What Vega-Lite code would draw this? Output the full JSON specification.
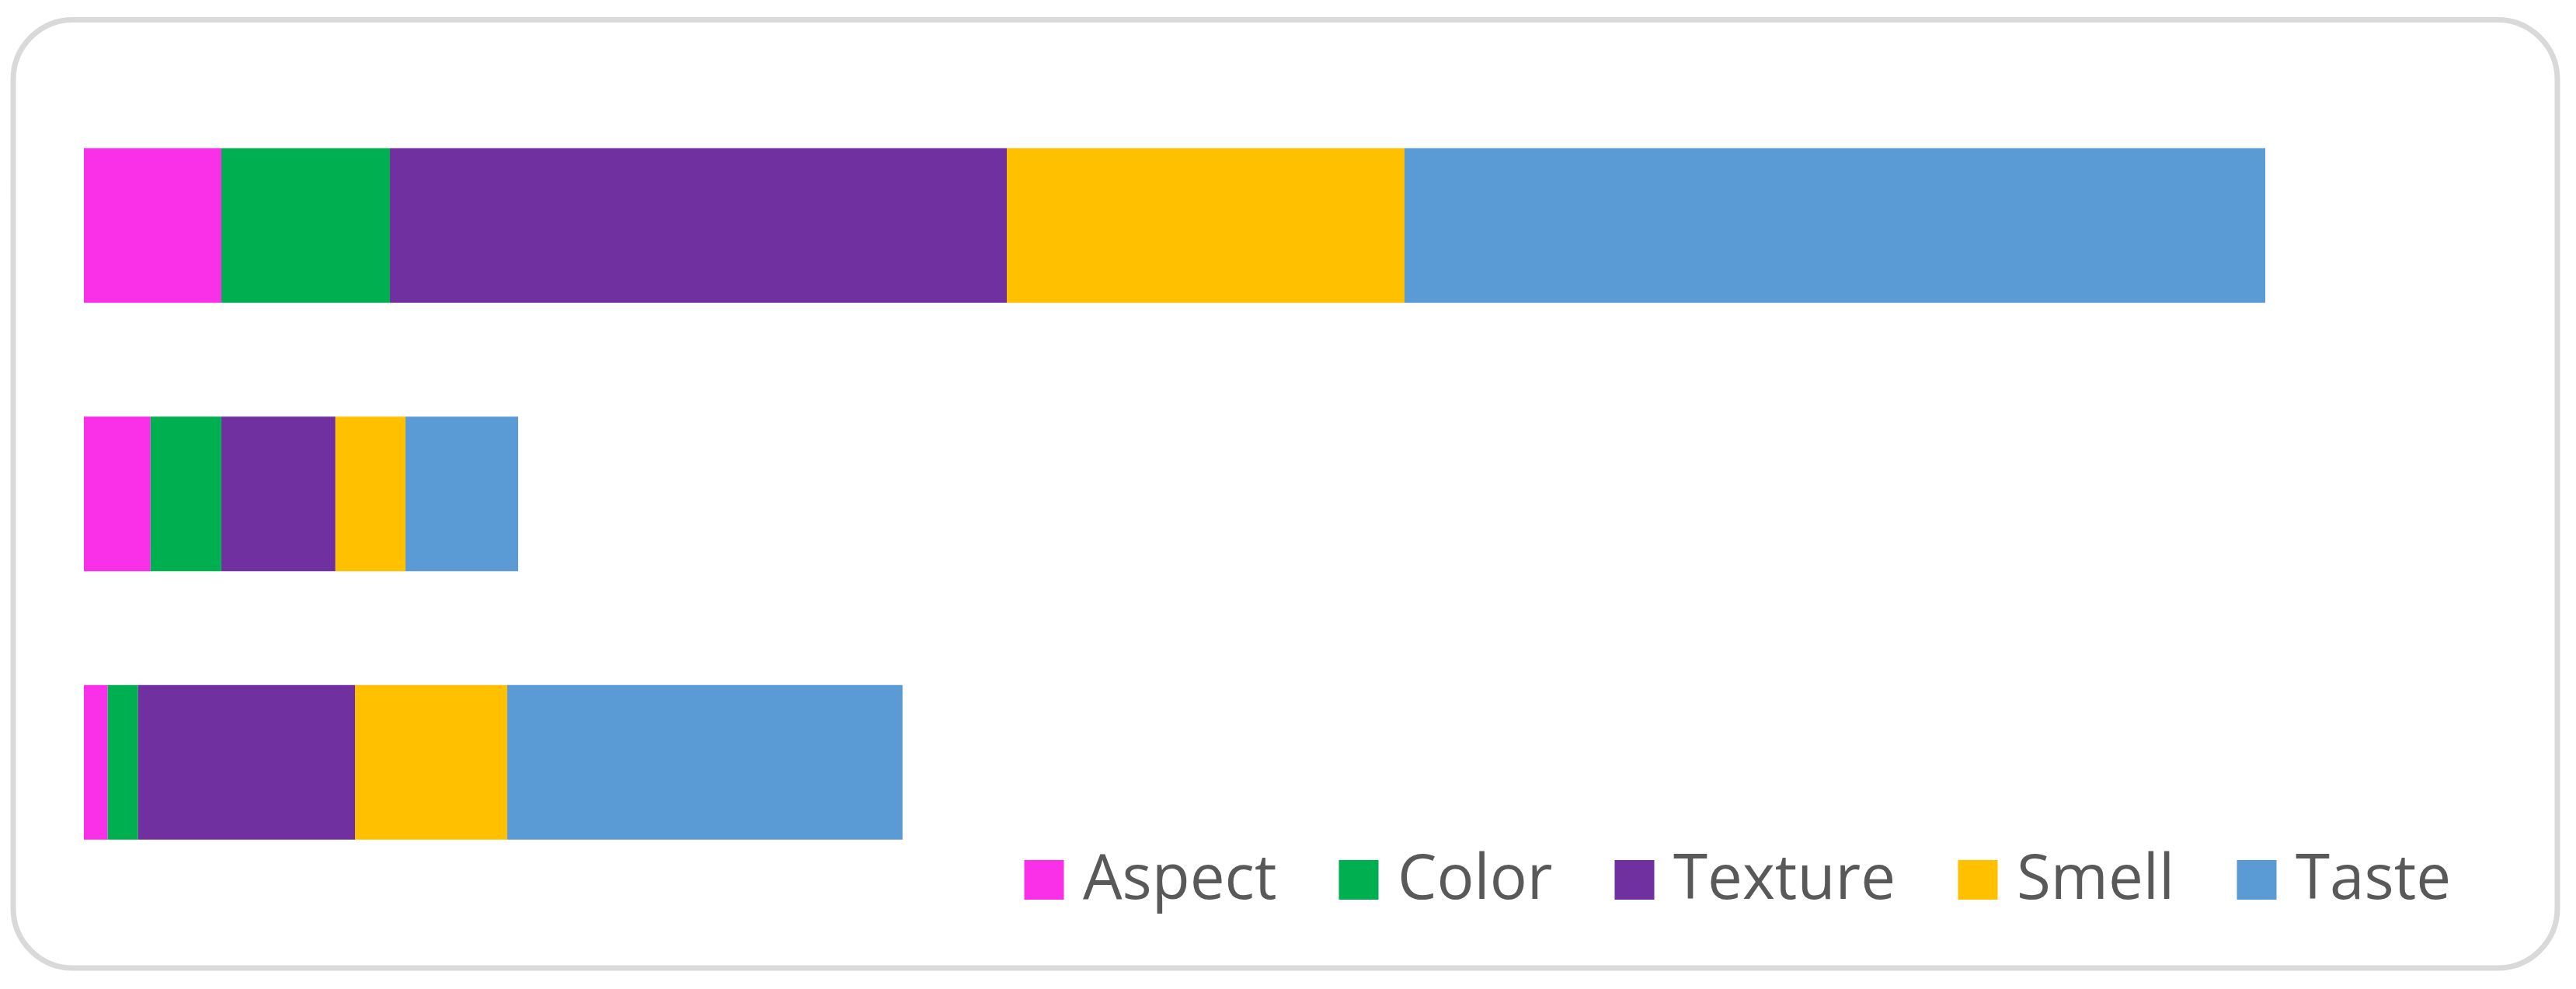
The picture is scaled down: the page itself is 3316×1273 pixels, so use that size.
{
  "$schema": "https://vega.github.io/schema/vega-lite/v6.json",
  "width": 3275,
  "height": 1220.5,
  "autosize": {"type": "none"},
  "padding": {"left": 17, "top": 25.5, "right": 24, "bottom": 27},
  "background": "white",
  "view": {"stroke": "#d9d9d9", "strokeWidth": 7, "cornerRadius": 77, "fill": "white"},
  "config": {
    "view": {"stroke": "#d9d9d9", "strokeWidth": 7, "cornerRadius": 77, "fill": "white"}
  },
  "data": {
    "values": [
      {"group": "Group 1", "attribute": "Aspect", "rank": 1, "value": 17.7},
      {"group": "Group 1", "attribute": "Color", "rank": 2, "value": 21.7},
      {"group": "Group 1", "attribute": "Texture", "rank": 3, "value": 79.4},
      {"group": "Group 1", "attribute": "Smell", "rank": 4, "value": 51.2},
      {"group": "Group 1", "attribute": "Taste", "rank": 5, "value": 110.8},
      {"group": "Group 2", "attribute": "Aspect", "rank": 1, "value": 8.58},
      {"group": "Group 2", "attribute": "Color", "rank": 2, "value": 9.11},
      {"group": "Group 2", "attribute": "Texture", "rank": 3, "value": 14.69},
      {"group": "Group 2", "attribute": "Smell", "rank": 4, "value": 9.02},
      {"group": "Group 2", "attribute": "Taste", "rank": 5, "value": 14.5},
      {"group": "Group 3", "attribute": "Aspect", "rank": 1, "value": 3.06},
      {"group": "Group 3", "attribute": "Color", "rank": 2, "value": 3.91},
      {"group": "Group 3", "attribute": "Texture", "rank": 3, "value": 27.93},
      {"group": "Group 3", "attribute": "Smell", "rank": 4, "value": 19.59},
      {"group": "Group 3", "attribute": "Taste", "rank": 5, "value": 50.89}
    ]
  },
  "mark": {"type": "bar", "strokeWidth": 0},
  "encoding": {
    "y": {
      "field": "group",
      "type": "nominal",
      "sort": ["Group 1", "Group 2", "Group 3"],
      "axis": null,
      "scale": {"paddingInner": 0.424, "paddingOuter": 0.478}
    },
    "x": {
      "field": "value",
      "type": "quantitative",
      "stack": "zero",
      "axis": null,
      "scale": {"domain": [-9.1, 318.4], "nice": false, "zero": false}
    },
    "color": {
      "field": "attribute",
      "type": "nominal",
      "scale": {
        "domain": ["Aspect", "Color", "Texture", "Smell", "Taste"],
        "range": ["#F930E8", "#00B050", "#7030A0", "#FFC000", "#5B9BD5"]
      },
      "legend": {
        "orient": "none",
        "legendX": 1287,
        "legendY": 1067,
        "direction": "horizontal",
        "title": null,
        "symbolType": "square",
        "symbolSize": 2601,
        "symbolStrokeWidth": 0,
        "labelFont": "Open Sans",
        "labelFontSize": 80,
        "labelColor": "#595959",
        "labelOffset": 10,
        "columnPadding": 65,
        "labelLimit": 1000,
        "padding": 0
      }
    },
    "order": {"field": "rank", "type": "quantitative"}
  }
}
